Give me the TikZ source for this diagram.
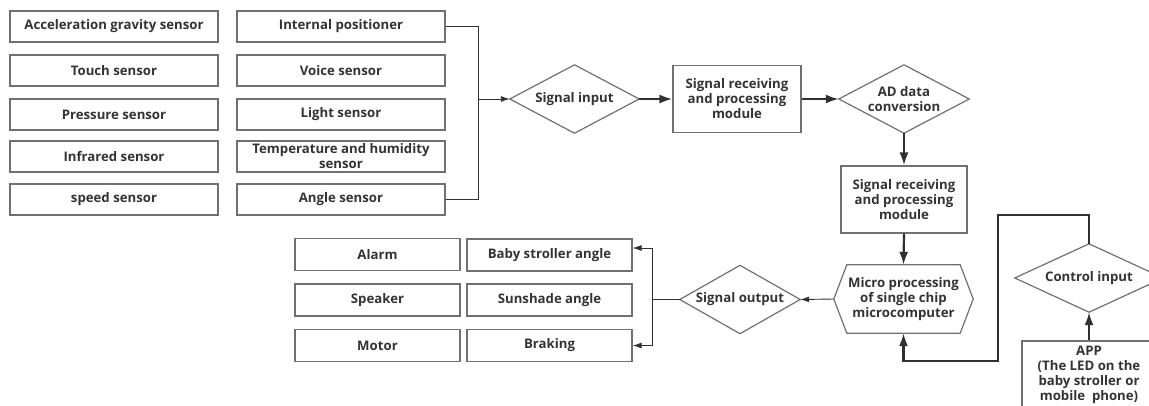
\documentclass[tikz,border=0pt]{standalone}
\usepackage{fontspec}
\setmainfont{Open Sans}
\usetikzlibrary{arrows.meta}
\definecolor{ln}{HTML}{707070}
\definecolor{tx}{HTML}{333333}
\definecolor{ar}{HTML}{303030}
\begin{document}
\begin{tikzpicture}[x=1pt,y=-1pt,
  every node/.style={font=\fontsize{13.2}{15}\selectfont\bfseries, text=tx, align=center, inner sep=0pt},
  sbox/.style={draw=ln, line width=1.2pt, minimum width=208pt, minimum height=31pt},
  obox/.style={draw=ln, line width=1.2pt, minimum width=165pt, minimum height=32pt},
  pbox/.style={draw=ln, line width=1.2pt, minimum width=128pt, minimum height=67pt},
  dia/.style={minimum width=#1, minimum height=68pt},
  shapeline/.style={draw=ln, line width=1.2pt},
  nline/.style={draw=ar, line width=0.9pt},
  narr/.style={draw=ar, line width=0.9pt, -{Latex[length=9pt,width=6pt]}},
  tarr/.style={draw=ar, line width=2.2pt, -{Latex[length=13pt,width=9pt]}}
]
\useasboundingbox (0,0) rectangle (1149,405);
\clip (0,0) rectangle (1149,405);

% sensors
\node[sbox] (a1) at (114,26.5) {Acceleration gravity sensor};
\node[sbox] (a2) at (114,70.5) {Touch sensor};
\node[sbox] (a3) at (114,114.5) {Pressure sensor};
\node[sbox] (a4) at (114,156.5) {Infrared sensor};
\node[sbox] (a5) at (114,199.5) {speed sensor};
\node[sbox] (b1) at (341,26.5) {Internal positioner};
\node[sbox] (b2) at (341,70.5) {Voice sensor};
\node[sbox] (b3) at (341,114.5) {Light sensor};
\node[sbox] (b4) at (341,156.5) {Temperature and humidity\\sensor};
\node[sbox] (b5) at (341,199.5) {Angle sensor};

% main chain
\node[dia=129pt] (si) at (574.5,99) {Signal input};
\draw[shapeline] (si.north) -- (si.east) -- (si.south) -- (si.west) -- cycle;
\node[pbox] (p1) at (737,99) {Signal receiving\\and processing\\module};
\node[dia=130pt] (ad) at (904,99) {AD data\\conversion};
\draw[shapeline] (ad.north) -- (ad.east) -- (ad.south) -- (ad.west) -- cycle;
\node[pbox, minimum width=126pt] (p2) at (904,199.5) {Signal receiving\\and processing\\module};
\node[minimum width=139pt, minimum height=68pt] (mc) at (903.5,299) {Micro processing\\of single chip\\microcomputer};
\draw[shapeline] (mc.west) -- ([xshift=13pt]mc.north west) -- ([xshift=-13pt]mc.north east) -- (mc.east) -- ([xshift=-13pt]mc.south east) -- ([xshift=13pt]mc.south west) -- cycle;
\node[dia=120pt] (so) at (740,299.5) {Signal output};
\draw[shapeline] (so.north) -- (so.east) -- (so.south) -- (so.west) -- cycle;
\node[dia=148pt] (ci) at (1089,278) {Control input};
\draw[shapeline] (ci.north) -- (ci.east) -- (ci.south) -- (ci.west) -- cycle;
\node[pbox, minimum width=134pt, minimum height=68pt] (app) at (1089,375) {APP\\(The LED on the\\baby stroller or\\mobile\ \ phone)};

% outputs
\node[obox] (c1) at (377.5,254.5) {Alarm};
\node[obox] (c2) at (377.5,300) {Speaker};
\node[obox] (c3) at (377.5,345.5) {Motor};
\node[obox] (d1) at (549.5,255) {Baby stroller angle};
\node[obox] (d2) at (549.5,300) {Sunshade angle};
\node[obox] (d3) at (549.5,345.5) {Braking};

% sensor connectors
\coordinate (jin) at (478,99);
\draw[nline] (b1.east) -| (jin);
\draw[nline] (b5.east) -| (jin);
\draw[narr] (jin) -- (si.west);

% chain arrows
\draw[tarr] (si.east) -- (p1.west);
\draw[tarr] (p1.east) -- (ad.west);
\draw[tarr] (ad.south) -- (p2.north);
\draw[tarr] (p2.south) -- (mc.north);
\coordinate (l1) at (998,215);
\coordinate (l2) at (998,361);
\draw[tarr] (ci.north) |- (l1) -- (l2) -| (mc.south);
\draw[tarr] (app.north) -- (ci.south);

% output connectors
\draw[narr] (mc.west) -- (so.east);
\coordinate (jout) at (652,299.5);
\draw[nline] (so.west) -- (jout);
\draw[narr] (jout) |- ([yshift=7pt]d1.east);
\draw[narr] (jout) |- (d3.east);
\end{tikzpicture}
\end{document}
